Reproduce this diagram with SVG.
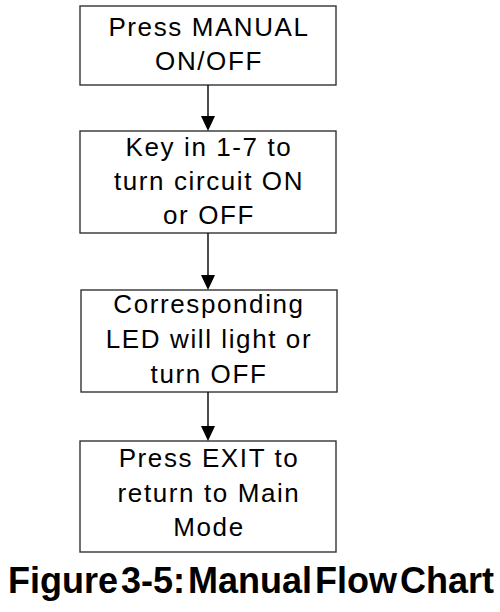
<svg xmlns="http://www.w3.org/2000/svg" width="500" height="612" viewBox="0 0 500 612">
<defs>
<style>
.box{fill:#fff;stroke:#333;stroke-width:1.4}
.t{font-family:"Liberation Sans",Arial,sans-serif;font-size:26px;letter-spacing:1.6px;text-anchor:middle;fill:#000}
.edge{stroke:#000;stroke-width:1.4;fill:none}
.title{font-family:"Liberation Sans",Arial,sans-serif;font-size:36px;font-weight:bold;word-spacing:-7px;fill:#000}
</style>
</defs>
<rect width="500" height="612" fill="#fff"/>
<g id="n1">
<rect class="box" x="80" y="6" width="256" height="79"/>
<text class="t" x="209" y="36">Press MANUAL</text>
<text class="t" x="209" y="70">ON/OFF</text>
</g>
<g id="n2">
<rect class="box" x="80" y="131" width="256" height="102"/>
<text class="t" x="209" y="156">Key in 1-7 to</text>
<text class="t" x="209" y="190">turn circuit ON</text>
<text class="t" x="209" y="224">or OFF</text>
</g>
<g id="n3">
<rect class="box" x="81" y="290" width="256" height="102"/>
<text class="t" x="209" y="313">Corresponding</text>
<text class="t" x="209" y="348">LED will light or</text>
<text class="t" x="209" y="383">turn OFF</text>
</g>
<g id="n4">
<rect class="box" x="80" y="441" width="256" height="111"/>
<text class="t" x="209" y="467">Press EXIT to</text>
<text class="t" x="209" y="502">return to Main</text>
<text class="t" x="209" y="536">Mode</text>
</g>
<g id="edges">
<line class="edge" x1="208" y1="85" x2="208" y2="117"/>
<path d="M201,116 L215,116 L208,131 Z" fill="#000"/>
<line class="edge" x1="208" y1="233" x2="208" y2="276"/>
<path d="M201,275 L215,275 L208,290 Z" fill="#000"/>
<line class="edge" x1="208" y1="392" x2="208" y2="427"/>
<path d="M201,426 L215,426 L208,441 Z" fill="#000"/>
</g>
<text class="title" x="8" y="593">Figure 3-5: Manual Flow Chart</text>
</svg>
